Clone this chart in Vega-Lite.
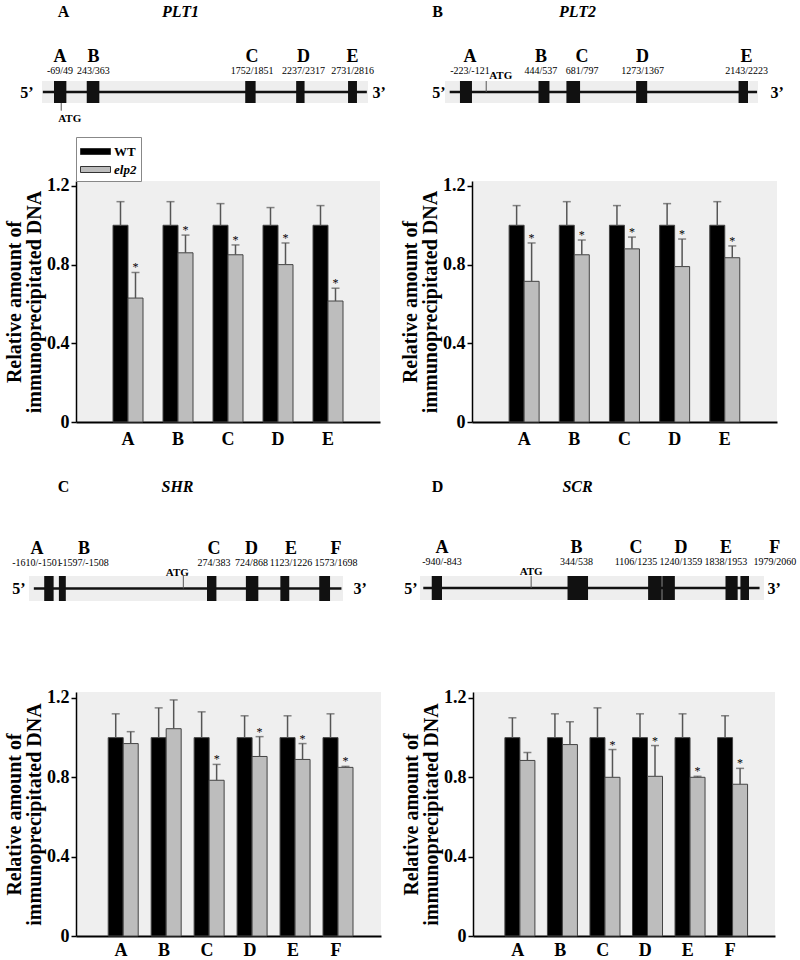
{
  "$schema": "https://vega.github.io/schema/vega-lite/v6.json",
  "padding": {"left": 4, "top": 3, "right": 2, "bottom": 0},
  "config": {"font": "Liberation Serif", "view": {"stroke": null}},
  "datasets": {
    "exA": [
      {"letter": "A", "coord": "-69/49", "start": -69, "end": 49, "lx": -12},
      {"letter": "B", "coord": "243/363", "start": 243, "end": 363, "lx": 307},
      {"letter": "C", "coord": "1752/1851", "start": 1752, "end": 1851, "lx": 1817},
      {"letter": "D", "coord": "2237/2317", "start": 2237, "end": 2317, "lx": 2307},
      {"letter": "E", "coord": "2731/2816", "start": 2731, "end": 2816, "lx": 2774}
    ],
    "exB": [
      {"letter": "A", "coord": "-223/-121", "start": -223, "end": -121, "lx": -138},
      {"letter": "B", "coord": "444/537", "start": 444, "end": 537, "lx": 465},
      {"letter": "C", "coord": "681/797", "start": 681, "end": 797, "lx": 814},
      {"letter": "D", "coord": "1273/1367", "start": 1273, "end": 1367, "lx": 1328},
      {"letter": "E", "coord": "2143/2223", "start": 2143, "end": 2223, "lx": 2211}
    ],
    "exC": [
      {"letter": "A", "coord": "-1610/-1501", "start": -1610, "end": -1501, "lx": -1694},
      {"letter": "B", "coord": "-1597/-1508", "start": -1440, "end": -1360, "lx": -1150},
      {"letter": "C", "coord": "274/383", "start": 274, "end": 383, "lx": 355},
      {"letter": "D", "coord": "724/868", "start": 724, "end": 868, "lx": 789},
      {"letter": "E", "coord": "1123/1226", "start": 1123, "end": 1226, "lx": 1246},
      {"letter": "F", "coord": "1573/1698", "start": 1573, "end": 1698, "lx": 1767}
    ],
    "exD": [
      {"letter": "A", "coord": "-940/-843", "start": -940, "end": -843, "lx": -843},
      {"letter": "B", "coord": "344/538", "start": 344, "end": 538, "lx": 429},
      {"letter": "C", "coord": "1106/1235", "start": 1106, "end": 1235, "lx": 991},
      {"letter": "D", "coord": "1240/1359", "start": 1240, "end": 1359, "lx": 1416},
      {"letter": "E", "coord": "1838/1953", "start": 1838, "end": 1953, "lx": 1842},
      {"letter": "F", "coord": "1979/2060", "start": 1979, "end": 2060, "lx": 2304}
    ],
    "atg": [{"label": "ATG", "pos": 0}],
    "plt1": [
      {"region": "A", "genotype": "WT", "value": 1, "upper": 1.12, "sig": false},
      {"region": "A", "genotype": "elp2", "value": 0.63, "upper": 0.76, "sig": true},
      {"region": "B", "genotype": "WT", "value": 1, "upper": 1.12, "sig": false},
      {"region": "B", "genotype": "elp2", "value": 0.86, "upper": 0.95, "sig": true},
      {"region": "C", "genotype": "WT", "value": 1, "upper": 1.11, "sig": false},
      {"region": "C", "genotype": "elp2", "value": 0.85, "upper": 0.9, "sig": true},
      {"region": "D", "genotype": "WT", "value": 1, "upper": 1.09, "sig": false},
      {"region": "D", "genotype": "elp2", "value": 0.8, "upper": 0.91, "sig": true},
      {"region": "E", "genotype": "WT", "value": 1, "upper": 1.1, "sig": false},
      {"region": "E", "genotype": "elp2", "value": 0.615, "upper": 0.68, "sig": true}
    ],
    "plt2": [
      {"region": "A", "genotype": "WT", "value": 1, "upper": 1.1, "sig": false},
      {"region": "A", "genotype": "elp2", "value": 0.715, "upper": 0.91, "sig": true},
      {"region": "B", "genotype": "WT", "value": 1, "upper": 1.12, "sig": false},
      {"region": "B", "genotype": "elp2", "value": 0.85, "upper": 0.925, "sig": true},
      {"region": "C", "genotype": "WT", "value": 1, "upper": 1.1, "sig": false},
      {"region": "C", "genotype": "elp2", "value": 0.88, "upper": 0.94, "sig": true},
      {"region": "D", "genotype": "WT", "value": 1, "upper": 1.11, "sig": false},
      {"region": "D", "genotype": "elp2", "value": 0.79, "upper": 0.93, "sig": true},
      {"region": "E", "genotype": "WT", "value": 1, "upper": 1.12, "sig": false},
      {"region": "E", "genotype": "elp2", "value": 0.835, "upper": 0.895, "sig": true}
    ],
    "shr": [
      {"region": "A", "genotype": "WT", "value": 1, "upper": 1.12, "sig": false},
      {"region": "A", "genotype": "elp2", "value": 0.97, "upper": 1.03, "sig": false},
      {"region": "B", "genotype": "WT", "value": 1, "upper": 1.15, "sig": false},
      {"region": "B", "genotype": "elp2", "value": 1.045, "upper": 1.19, "sig": false},
      {"region": "C", "genotype": "WT", "value": 1, "upper": 1.13, "sig": false},
      {"region": "C", "genotype": "elp2", "value": 0.785, "upper": 0.865, "sig": true},
      {"region": "D", "genotype": "WT", "value": 1, "upper": 1.11, "sig": false},
      {"region": "D", "genotype": "elp2", "value": 0.905, "upper": 1.005, "sig": true},
      {"region": "E", "genotype": "WT", "value": 1, "upper": 1.11, "sig": false},
      {"region": "E", "genotype": "elp2", "value": 0.89, "upper": 0.97, "sig": true},
      {"region": "F", "genotype": "WT", "value": 1, "upper": 1.12, "sig": false},
      {"region": "F", "genotype": "elp2", "value": 0.85, "upper": 0.855, "sig": true}
    ],
    "scr": [
      {"region": "A", "genotype": "WT", "value": 1, "upper": 1.1, "sig": false},
      {"region": "A", "genotype": "elp2", "value": 0.885, "upper": 0.925, "sig": false},
      {"region": "B", "genotype": "WT", "value": 1, "upper": 1.12, "sig": false},
      {"region": "B", "genotype": "elp2", "value": 0.965, "upper": 1.08, "sig": false},
      {"region": "C", "genotype": "WT", "value": 1, "upper": 1.15, "sig": false},
      {"region": "C", "genotype": "elp2", "value": 0.8, "upper": 0.94, "sig": true},
      {"region": "D", "genotype": "WT", "value": 1, "upper": 1.12, "sig": false},
      {"region": "D", "genotype": "elp2", "value": 0.805, "upper": 0.96, "sig": true},
      {"region": "E", "genotype": "WT", "value": 1, "upper": 1.12, "sig": false},
      {"region": "E", "genotype": "elp2", "value": 0.8, "upper": 0.805, "sig": true},
      {"region": "F", "genotype": "WT", "value": 1, "upper": 1.11, "sig": false},
      {"region": "F", "genotype": "elp2", "value": 0.765, "upper": 0.845, "sig": true}
    ]
  },
  "columns": 1,
  "align": "none",
  "spacing": 30,
  "resolve": {"scale": {"color": "independent"}, "legend": {"color": "independent"}},
  "concat": [
    {
      "columns": 1,
      "align": "none",
      "spacing": 12,
      "resolve": {"scale": {"color": "independent"}, "legend": {"color": "independent"}},
      "concat": [
        {
          "spacing": 104,
          "bounds": "flush",
          "hconcat": [
            {
              "width": 292, "height": 22,
              "resolve": {"axis": {"x": "independent", "y": "independent"}},
              "layer": [
                {"data": {"values": [{}]}, "mark": {"type": "rect", "color": "#eeeeee"},
                 "encoding": {
                   "x": {"datum": -183, "type": "quantitative", "scale": {"domain": [-183, 2921], "range": [-34, 292], "nice": false, "zero": false}, "axis": null},
                   "x2": {"datum": 2921},
                   "y": {"datum": -1, "type": "quantitative", "scale": {"domain": [-1, 1]},
                     "axis": {"orient": "left", "title": "5’", "domain": false, "ticks": false, "labels": false, "grid": false, "titleAngle": 0, "titleX": -43, "titleY": 11, "titleAlign": "right", "titleBaseline": "middle", "titleFontSize": 16, "titleFontWeight": "bold", "titleColor": "black"}},
                   "y2": {"datum": 1}}},
                {"data": {"values": [{}]}, "mark": {"type": "rule", "color": "#111111", "strokeWidth": 2.5},
                 "encoding": {
                   "x": {"datum": -175, "type": "quantitative", "scale": {"domain": [-183, 2921], "range": [-34, 292], "nice": false, "zero": false}, "axis": null},
                   "x2": {"datum": 2910},
                   "y": {"datum": 0, "type": "quantitative", "scale": {"domain": [-1, 1]}, "axis": null}}},
                {"data": {"name": "exA"}, "mark": {"type": "rect", "color": "#111111"},
                 "encoding": {
                   "x": {"field": "start", "type": "quantitative", "scale": {"domain": [-183, 2921], "range": [-34, 292], "nice": false, "zero": false},
                     "axis": {"orient": "top", "title": "PLT1", "domain": false, "ticks": false, "labels": false, "grid": false, "titleX": 104, "titleY": -70, "titleAlign": "center", "titleBaseline": "middle", "titleFontSize": 16, "titleFontWeight": "bold", "titleFontStyle": "italic", "titleColor": "black"}},
                   "x2": {"field": "end"},
                   "y": {"datum": -1, "type": "quantitative", "scale": {"domain": [-1, 1]},
                     "axis": {"orient": "right", "title": "3’", "domain": false, "ticks": false, "labels": false, "grid": false, "titleAngle": 0, "titleX": 4, "titleY": 11, "titleAlign": "left", "titleBaseline": "middle", "titleFontSize": 16, "titleFontWeight": "bold", "titleColor": "black"}},
                   "y2": {"datum": 1}}},
                {"data": {"name": "exA"}, "mark": {"type": "text", "dy": -35, "fontSize": 18, "fontWeight": "bold", "color": "black"},
                 "encoding": {
                   "x": {"field": "lx", "type": "quantitative", "scale": {"domain": [-183, 2921], "range": [-34, 292], "nice": false, "zero": false},
                     "axis": {"orient": "bottom", "title": "A", "domain": false, "ticks": false, "labels": false, "grid": false, "titleX": -13, "titleY": -92, "titleAlign": "center", "titleBaseline": "middle", "titleFontSize": 16, "titleFontWeight": "bold", "titleColor": "black"}},
                   "y": {"datum": 0, "type": "quantitative", "scale": {"domain": [-1, 1]}, "axis": null},
                   "text": {"field": "letter"}}},
                {"data": {"name": "exA"}, "mark": {"type": "text", "dy": -21, "fontSize": 10, "color": "black"},
                 "encoding": {
                   "x": {"field": "lx", "type": "quantitative", "scale": {"domain": [-183, 2921], "range": [-34, 292], "nice": false, "zero": false}, "axis": null},
                   "y": {"datum": 0, "type": "quantitative", "scale": {"domain": [-1, 1]}, "axis": null},
                   "text": {"field": "coord"}}},
                {"data": {"name": "atg"}, "mark": {"type": "rule", "color": "#555555", "strokeWidth": 1},
                 "encoding": {
                   "x": {"field": "pos", "type": "quantitative", "scale": {"domain": [-183, 2921], "range": [-34, 292], "nice": false, "zero": false}, "axis": null},
                   "y": {"datum": -1, "type": "quantitative", "scale": {"domain": [-1, 1]}, "axis": null},
                   "y2": {"datum": -1.7}}},
                {"data": {"name": "atg"}, "mark": {"type": "text", "align": "left", "dx": -3, "dy": 16, "fontSize": 11, "fontWeight": "bold", "color": "black"},
                 "encoding": {
                   "x": {"field": "pos", "type": "quantitative", "scale": {"domain": [-183, 2921], "range": [-34, 292], "nice": false, "zero": false}, "axis": null},
                   "y": {"datum": -1, "type": "quantitative", "scale": {"domain": [-1, 1]}, "axis": null},
                   "text": {"field": "label"}}}
              ]
            },
            {
              "width": 286, "height": 22,
              "resolve": {"axis": {"x": "independent", "y": "independent"}},
              "layer": [
                {"data": {"values": [{}]}, "mark": {"type": "rect", "color": "#eeeeee"},
                 "encoding": {
                   "x": {"datum": -350, "type": "quantitative", "scale": {"domain": [-350, 2308], "range": [-27, 286], "nice": false, "zero": false}, "axis": null},
                   "x2": {"datum": 2308},
                   "y": {"datum": -1, "type": "quantitative", "scale": {"domain": [-1, 1]},
                     "axis": {"orient": "left", "title": "5’", "domain": false, "ticks": false, "labels": false, "grid": false, "titleAngle": 0, "titleX": -27, "titleY": 11, "titleAlign": "right", "titleBaseline": "middle", "titleFontSize": 16, "titleFontWeight": "bold", "titleColor": "black"}},
                   "y2": {"datum": 1}}},
                {"data": {"values": [{}]}, "mark": {"type": "rule", "color": "#111111", "strokeWidth": 2.5},
                 "encoding": {
                   "x": {"datum": -310, "type": "quantitative", "scale": {"domain": [-350, 2308], "range": [-27, 286], "nice": false, "zero": false}, "axis": null},
                   "x2": {"datum": 2300},
                   "y": {"datum": 0, "type": "quantitative", "scale": {"domain": [-1, 1]}, "axis": null}}},
                {"data": {"name": "exB"}, "mark": {"type": "rect", "color": "#111111"},
                 "encoding": {
                   "x": {"field": "start", "type": "quantitative", "scale": {"domain": [-350, 2308], "range": [-27, 286], "nice": false, "zero": false},
                     "axis": {"orient": "top", "title": "PLT2", "domain": false, "ticks": false, "labels": false, "grid": false, "titleX": 105, "titleY": -70, "titleAlign": "center", "titleBaseline": "middle", "titleFontSize": 16, "titleFontWeight": "bold", "titleFontStyle": "italic", "titleColor": "black"}},
                   "x2": {"field": "end"},
                   "y": {"datum": -1, "type": "quantitative", "scale": {"domain": [-1, 1]},
                     "axis": {"orient": "right", "title": "3’", "domain": false, "ticks": false, "labels": false, "grid": false, "titleAngle": 0, "titleX": 12, "titleY": 11, "titleAlign": "left", "titleBaseline": "middle", "titleFontSize": 16, "titleFontWeight": "bold", "titleColor": "black"}},
                   "y2": {"datum": 1}}},
                {"data": {"name": "exB"}, "mark": {"type": "text", "dy": -35, "fontSize": 18, "fontWeight": "bold", "color": "black"},
                 "encoding": {
                   "x": {"field": "lx", "type": "quantitative", "scale": {"domain": [-350, 2308], "range": [-27, 286], "nice": false, "zero": false},
                     "axis": {"orient": "bottom", "title": "B", "domain": false, "ticks": false, "labels": false, "grid": false, "titleX": -35, "titleY": -92, "titleAlign": "center", "titleBaseline": "middle", "titleFontSize": 16, "titleFontWeight": "bold", "titleColor": "black"}},
                   "y": {"datum": 0, "type": "quantitative", "scale": {"domain": [-1, 1]}, "axis": null},
                   "text": {"field": "letter"}}},
                {"data": {"name": "exB"}, "mark": {"type": "text", "dy": -21, "fontSize": 10, "color": "black"},
                 "encoding": {
                   "x": {"field": "lx", "type": "quantitative", "scale": {"domain": [-350, 2308], "range": [-27, 286], "nice": false, "zero": false}, "axis": null},
                   "y": {"datum": 0, "type": "quantitative", "scale": {"domain": [-1, 1]}, "axis": null},
                   "text": {"field": "coord"}}},
                {"data": {"name": "atg"}, "mark": {"type": "rule", "color": "#555555", "strokeWidth": 1},
                 "encoding": {
                   "x": {"field": "pos", "type": "quantitative", "scale": {"domain": [-350, 2308], "range": [-27, 286], "nice": false, "zero": false}, "axis": null},
                   "y": {"datum": 0, "type": "quantitative", "scale": {"domain": [-1, 1]}, "axis": null},
                   "y2": {"datum": 1}}},
                {"data": {"name": "atg"}, "mark": {"type": "text", "align": "left", "dx": 3, "dy": -16, "fontSize": 11, "fontWeight": "bold", "color": "black"},
                 "encoding": {
                   "x": {"field": "pos", "type": "quantitative", "scale": {"domain": [-350, 2308], "range": [-27, 286], "nice": false, "zero": false}, "axis": null},
                   "y": {"datum": 0, "type": "quantitative", "scale": {"domain": [-1, 1]}, "axis": null},
                   "text": {"field": "label"}}}
              ]
            }
          ]
        },
        {
          "spacing": 92,
          "bounds": "flush",
          "resolve": {"scale": {"color": "independent"}, "legend": {"color": "independent"}},
          "hconcat": [
            {
              "width": 304, "height": 241,
              "view": {"fill": "#efefef", "stroke": null},
              "data": {"name": "plt1"},
              "encoding": {
                "x": {"field": "region", "type": "nominal", "scale": {"paddingInner": 0.4, "paddingOuter": 0.74},
                  "axis": {"title": null, "labelAngle": 0, "ticks": false, "grid": false, "domainColor": "black", "domainWidth": 2, "labelFontSize": 18, "labelFontWeight": "bold", "labelColor": "black", "labelPadding": 8}},
                "xOffset": {"field": "genotype", "type": "nominal", "sort": ["WT", "elp2"]}
              },
              "layer": [
                {"mark": {"type": "bar", "stroke": "#444444", "strokeWidth": 1},
                 "encoding": {
                   "y": {"field": "value", "type": "quantitative", "scale": {"domain": [0, 1.225], "nice": false},
                     "axis": {"title": ["Relative amount of", "immunoprecipitated DNA"], "values": [0, 0.4, 0.8, 1.2], "format": "~g", "grid": false, "domainColor": "black", "domainWidth": 1.5, "tickColor": "black", "tickSize": 5, "tickWidth": 1.5, "labelFontSize": 18, "labelFontWeight": "bold", "labelColor": "black", "labelPadding": 2, "titleFontSize": 20, "titleFontWeight": "bold", "titleColor": "black", "titleLineHeight": 20, "titlePadding": 2}},
                   "color": {"field": "genotype", "type": "nominal", "scale": {"domain": ["WT", "elp2"], "range": ["#000000", "#bdbdbd"]},
                     "legend": {"orient": "top", "offset": 0, "title": null, "direction": "vertical", "fillColor": "white", "strokeColor": "#888888", "padding": 4, "symbolType": "M-1,-0.3H2V0.3H-1Z", "symbolSize": 400, "symbolStrokeColor": "#333333", "symbolStrokeWidth": 1, "labelFont": "Liberation Serif", "labelFontSize": 13, "labelFontWeight": "bold", "labelColor": "black", "rowPadding": -8, "labelOffset": 13,
                       "encode": {"labels": {"update": {"fontStyle": {"signal": "datum.value === 'elp2' ? 'italic' : 'normal'"}}}}}}}},
                {"mark": {"type": "rule", "color": "#555555", "strokeWidth": 1.5},
                 "encoding": {"y": {"field": "value", "type": "quantitative"}, "y2": {"field": "upper"}}},
                {"mark": {"type": "tick", "color": "#555555", "thickness": 1.5, "size": 8},
                 "encoding": {"y": {"field": "upper", "type": "quantitative"}}},
                {"transform": [{"filter": "datum.sig"}],
                 "mark": {"type": "text", "text": "*", "fontSize": 12, "dy": -1, "baseline": "alphabetic", "color": "black"},
                 "encoding": {"y": {"field": "upper", "type": "quantitative"}}}
              ]
            },
            {
              "width": 305, "height": 241,
              "view": {"fill": "#efefef", "stroke": null},
              "data": {"name": "plt2"},
              "encoding": {
                "x": {"field": "region", "type": "nominal", "scale": {"paddingInner": 0.4, "paddingOuter": 0.74},
                  "axis": {"title": null, "labelAngle": 0, "ticks": false, "grid": false, "domainColor": "black", "domainWidth": 2, "labelFontSize": 18, "labelFontWeight": "bold", "labelColor": "black", "labelPadding": 8}},
                "xOffset": {"field": "genotype", "type": "nominal", "sort": ["WT", "elp2"]}
              },
              "layer": [
                {"mark": {"type": "bar", "stroke": "#444444", "strokeWidth": 1},
                 "encoding": {
                   "y": {"field": "value", "type": "quantitative", "scale": {"domain": [0, 1.225], "nice": false},
                     "axis": {"title": ["Relative amount of", "immunoprecipitated DNA"], "values": [0, 0.4, 0.8, 1.2], "format": "~g", "grid": false, "domainColor": "black", "domainWidth": 1.5, "tickColor": "black", "tickSize": 5, "tickWidth": 1.5, "labelFontSize": 18, "labelFontWeight": "bold", "labelColor": "black", "labelPadding": 2, "titleFontSize": 20, "titleFontWeight": "bold", "titleColor": "black", "titleLineHeight": 20, "titlePadding": 2}},
                   "color": {"field": "genotype", "type": "nominal", "scale": {"domain": ["WT", "elp2"], "range": ["#000000", "#bdbdbd"]}, "legend": null}}},
                {"mark": {"type": "rule", "color": "#555555", "strokeWidth": 1.5},
                 "encoding": {"y": {"field": "value", "type": "quantitative"}, "y2": {"field": "upper"}}},
                {"mark": {"type": "tick", "color": "#555555", "thickness": 1.5, "size": 8},
                 "encoding": {"y": {"field": "upper", "type": "quantitative"}}},
                {"transform": [{"filter": "datum.sig"}],
                 "mark": {"type": "text", "text": "*", "fontSize": 12, "dy": -1, "baseline": "alphabetic", "color": "black"},
                 "encoding": {"y": {"field": "upper", "type": "quantitative"}}}
              ]
            }
          ]
        }
      ]
    },
    {
      "columns": 1,
      "align": "none",
      "spacing": 87,
      "resolve": {"scale": {"color": "independent"}, "legend": {"color": "independent"}},
      "concat": [
        {
          "spacing": 130,
          "bounds": "flush",
          "hconcat": [
            {
              "width": 267, "height": 25,
              "resolve": {"axis": {"x": "independent", "y": "independent"}},
              "layer": [
                {"data": {"values": [{}]}, "mark": {"type": "rect", "color": "#eeeeee"},
                 "encoding": {
                   "x": {"datum": -1786, "type": "quantitative", "scale": {"domain": [-1786, 1848], "range": [-47, 267], "nice": false, "zero": false}, "axis": null},
                   "x2": {"datum": 1848},
                   "y": {"datum": -1, "type": "quantitative", "scale": {"domain": [-1, 1]},
                     "axis": {"orient": "left", "title": "5’", "domain": false, "ticks": false, "labels": false, "grid": false, "titleAngle": 0, "titleX": -51, "titleY": 12.5, "titleAlign": "right", "titleBaseline": "middle", "titleFontSize": 16, "titleFontWeight": "bold", "titleColor": "black"}},
                   "y2": {"datum": 1}}},
                {"data": {"values": [{}]}, "mark": {"type": "rule", "color": "#111111", "strokeWidth": 2.5},
                 "encoding": {
                   "x": {"datum": -1730, "type": "quantitative", "scale": {"domain": [-1786, 1848], "range": [-47, 267], "nice": false, "zero": false}, "axis": null},
                   "x2": {"datum": 1830},
                   "y": {"datum": 0, "type": "quantitative", "scale": {"domain": [-1, 1]}, "axis": null}}},
                {"data": {"name": "exC"}, "mark": {"type": "rect", "color": "#111111"},
                 "encoding": {
                   "x": {"field": "start", "type": "quantitative", "scale": {"domain": [-1786, 1848], "range": [-47, 267], "nice": false, "zero": false},
                     "axis": {"orient": "top", "title": "SHR", "domain": false, "ticks": false, "labels": false, "grid": false, "titleX": 101, "titleY": -90, "titleAlign": "center", "titleBaseline": "middle", "titleFontSize": 16, "titleFontWeight": "bold", "titleFontStyle": "italic", "titleColor": "black"}},
                   "x2": {"field": "end"},
                   "y": {"datum": -1, "type": "quantitative", "scale": {"domain": [-1, 1]},
                     "axis": {"orient": "right", "title": "3’", "domain": false, "ticks": false, "labels": false, "grid": false, "titleAngle": 0, "titleX": 10, "titleY": 12.5, "titleAlign": "left", "titleBaseline": "middle", "titleFontSize": 16, "titleFontWeight": "bold", "titleColor": "black"}},
                   "y2": {"datum": 1}}},
                {"data": {"name": "exC"}, "mark": {"type": "text", "dy": -40, "fontSize": 18, "fontWeight": "bold", "color": "black"},
                 "encoding": {
                   "x": {"field": "lx", "type": "quantitative", "scale": {"domain": [-1786, 1848], "range": [-47, 267], "nice": false, "zero": false},
                     "axis": {"orient": "bottom", "title": "C", "domain": false, "ticks": false, "labels": false, "grid": false, "titleX": -13, "titleY": -115, "titleAlign": "center", "titleBaseline": "middle", "titleFontSize": 16, "titleFontWeight": "bold", "titleColor": "black"}},
                   "y": {"datum": 0, "type": "quantitative", "scale": {"domain": [-1, 1]}, "axis": null},
                   "text": {"field": "letter"}}},
                {"data": {"name": "exC"}, "mark": {"type": "text", "dy": -26, "fontSize": 10, "color": "black"},
                 "encoding": {
                   "x": {"field": "lx", "type": "quantitative", "scale": {"domain": [-1786, 1848], "range": [-47, 267], "nice": false, "zero": false}, "axis": null},
                   "y": {"datum": 0, "type": "quantitative", "scale": {"domain": [-1, 1]}, "axis": null},
                   "text": {"field": "coord"}}},
                {"data": {"name": "atg"}, "mark": {"type": "rule", "color": "#555555", "strokeWidth": 1},
                 "encoding": {
                   "x": {"field": "pos", "type": "quantitative", "scale": {"domain": [-1786, 1848], "range": [-47, 267], "nice": false, "zero": false}, "axis": null},
                   "y": {"datum": 0, "type": "quantitative", "scale": {"domain": [-1, 1]}, "axis": null},
                   "y2": {"datum": 1}}},
                {"data": {"name": "atg"}, "mark": {"type": "text", "align": "center", "dx": -6, "dy": -16, "fontSize": 11, "fontWeight": "bold", "color": "black"},
                 "encoding": {
                   "x": {"field": "pos", "type": "quantitative", "scale": {"domain": [-1786, 1848], "range": [-47, 267], "nice": false, "zero": false}, "axis": null},
                   "y": {"datum": 0, "type": "quantitative", "scale": {"domain": [-1, 1]}, "axis": null},
                   "text": {"field": "label"}}}
              ]
            },
            {
              "width": 291, "height": 24,
              "resolve": {"axis": {"x": "independent", "y": "independent"}},
              "layer": [
                {"data": {"values": [{}]}, "mark": {"type": "rect", "color": "#eeeeee"},
                 "encoding": {
                   "x": {"datum": -1051, "type": "quantitative", "scale": {"domain": [-1051, 2202], "range": [-53, 291], "nice": false, "zero": false}, "axis": null},
                   "x2": {"datum": 2202},
                   "y": {"datum": -1, "type": "quantitative", "scale": {"domain": [-1, 1]},
                     "axis": {"orient": "left", "title": "5’", "domain": false, "ticks": false, "labels": false, "grid": false, "titleAngle": 0, "titleX": -56, "titleY": 12, "titleAlign": "right", "titleBaseline": "middle", "titleFontSize": 16, "titleFontWeight": "bold", "titleColor": "black"}},
                   "y2": {"datum": 1}}},
                {"data": {"values": [{}]}, "mark": {"type": "rule", "color": "#111111", "strokeWidth": 2.5},
                 "encoding": {
                   "x": {"datum": -1020, "type": "quantitative", "scale": {"domain": [-1051, 2202], "range": [-53, 291], "nice": false, "zero": false}, "axis": null},
                   "x2": {"datum": 2160},
                   "y": {"datum": 0, "type": "quantitative", "scale": {"domain": [-1, 1]}, "axis": null}}},
                {"data": {"name": "exD"}, "mark": {"type": "rect", "color": "#111111"},
                 "encoding": {
                   "x": {"field": "start", "type": "quantitative", "scale": {"domain": [-1051, 2202], "range": [-53, 291], "nice": false, "zero": false},
                     "axis": {"orient": "top", "title": "SCR", "domain": false, "ticks": false, "labels": false, "grid": false, "titleX": 104, "titleY": -90, "titleAlign": "center", "titleBaseline": "middle", "titleFontSize": 16, "titleFontWeight": "bold", "titleFontStyle": "italic", "titleColor": "black"}},
                   "x2": {"field": "end"},
                   "y": {"datum": -1, "type": "quantitative", "scale": {"domain": [-1, 1]},
                     "axis": {"orient": "right", "title": "3’", "domain": false, "ticks": false, "labels": false, "grid": false, "titleAngle": 0, "titleX": 3, "titleY": 12, "titleAlign": "left", "titleBaseline": "middle", "titleFontSize": 16, "titleFontWeight": "bold", "titleColor": "black"}},
                   "y2": {"datum": 1}}},
                {"data": {"name": "exD"}, "mark": {"type": "text", "dy": -40, "fontSize": 18, "fontWeight": "bold", "color": "black"},
                 "encoding": {
                   "x": {"field": "lx", "type": "quantitative", "scale": {"domain": [-1051, 2202], "range": [-53, 291], "nice": false, "zero": false},
                     "axis": {"orient": "bottom", "title": "D", "domain": false, "ticks": false, "labels": false, "grid": false, "titleX": -36, "titleY": -114, "titleAlign": "center", "titleBaseline": "middle", "titleFontSize": 16, "titleFontWeight": "bold", "titleColor": "black"}},
                   "y": {"datum": 0, "type": "quantitative", "scale": {"domain": [-1, 1]}, "axis": null},
                   "text": {"field": "letter"}}},
                {"data": {"name": "exD"}, "mark": {"type": "text", "dy": -26, "fontSize": 10, "color": "black"},
                 "encoding": {
                   "x": {"field": "lx", "type": "quantitative", "scale": {"domain": [-1051, 2202], "range": [-53, 291], "nice": false, "zero": false}, "axis": null},
                   "y": {"datum": 0, "type": "quantitative", "scale": {"domain": [-1, 1]}, "axis": null},
                   "text": {"field": "coord"}}},
                {"data": {"name": "atg"}, "mark": {"type": "rule", "color": "#555555", "strokeWidth": 1},
                 "encoding": {
                   "x": {"field": "pos", "type": "quantitative", "scale": {"domain": [-1051, 2202], "range": [-53, 291], "nice": false, "zero": false}, "axis": null},
                   "y": {"datum": 0, "type": "quantitative", "scale": {"domain": [-1, 1]}, "axis": null},
                   "y2": {"datum": 1}}},
                {"data": {"name": "atg"}, "mark": {"type": "text", "align": "center", "dy": -16, "fontSize": 11, "fontWeight": "bold", "color": "black"},
                 "encoding": {
                   "x": {"field": "pos", "type": "quantitative", "scale": {"domain": [-1051, 2202], "range": [-53, 291], "nice": false, "zero": false}, "axis": null},
                   "y": {"datum": 0, "type": "quantitative", "scale": {"domain": [-1, 1]}, "axis": null},
                   "text": {"field": "label"}}}
              ]
            }
          ]
        },
        {
          "spacing": 92,
          "bounds": "flush",
          "resolve": {"scale": {"color": "independent"}, "legend": {"color": "independent"}},
          "hconcat": [
            {
              "width": 305, "height": 244,
              "view": {"fill": "#efefef", "stroke": null},
              "data": {"name": "shr"},
              "encoding": {
                "x": {"field": "region", "type": "nominal", "scale": {"paddingInner": 0.4, "paddingOuter": 0.75},
                  "axis": {"title": null, "labelAngle": 0, "ticks": false, "grid": false, "domainColor": "black", "domainWidth": 2, "labelFontSize": 18, "labelFontWeight": "bold", "labelColor": "black", "labelPadding": 5}},
                "xOffset": {"field": "genotype", "type": "nominal", "sort": ["WT", "elp2"]}
              },
              "layer": [
                {"mark": {"type": "bar", "stroke": "#444444", "strokeWidth": 1},
                 "encoding": {
                   "y": {"field": "value", "type": "quantitative", "scale": {"domain": [0, 1.23], "nice": false},
                     "axis": {"title": ["Relative amount of", "immunoprecipitated DNA"], "values": [0, 0.4, 0.8, 1.2], "format": "~g", "grid": false, "domainColor": "black", "domainWidth": 1.5, "tickColor": "black", "tickSize": 5, "tickWidth": 1.5, "labelFontSize": 18, "labelFontWeight": "bold", "labelColor": "black", "labelPadding": 2, "titleFontSize": 20, "titleFontWeight": "bold", "titleColor": "black", "titleLineHeight": 20, "titlePadding": 2}},
                   "color": {"field": "genotype", "type": "nominal", "scale": {"domain": ["WT", "elp2"], "range": ["#000000", "#bdbdbd"]}, "legend": null}}},
                {"mark": {"type": "rule", "color": "#555555", "strokeWidth": 1.5},
                 "encoding": {"y": {"field": "value", "type": "quantitative"}, "y2": {"field": "upper"}}},
                {"mark": {"type": "tick", "color": "#555555", "thickness": 1.5, "size": 8},
                 "encoding": {"y": {"field": "upper", "type": "quantitative"}}},
                {"transform": [{"filter": "datum.sig"}],
                 "mark": {"type": "text", "text": "*", "fontSize": 12, "dy": -1, "baseline": "alphabetic", "color": "black"},
                 "encoding": {"y": {"field": "upper", "type": "quantitative"}}}
              ]
            },
            {
              "width": 302, "height": 244,
              "view": {"fill": "#efefef", "stroke": null},
              "data": {"name": "scr"},
              "encoding": {
                "x": {"field": "region", "type": "nominal", "scale": {"paddingInner": 0.4, "paddingOuter": 0.75},
                  "axis": {"title": null, "labelAngle": 0, "ticks": false, "grid": false, "domainColor": "black", "domainWidth": 2, "labelFontSize": 18, "labelFontWeight": "bold", "labelColor": "black", "labelPadding": 5}},
                "xOffset": {"field": "genotype", "type": "nominal", "sort": ["WT", "elp2"]}
              },
              "layer": [
                {"mark": {"type": "bar", "stroke": "#444444", "strokeWidth": 1},
                 "encoding": {
                   "y": {"field": "value", "type": "quantitative", "scale": {"domain": [0, 1.23], "nice": false},
                     "axis": {"title": ["Relative amount of", "immunoprecipitated DNA"], "values": [0, 0.4, 0.8, 1.2], "format": "~g", "grid": false, "domainColor": "black", "domainWidth": 1.5, "tickColor": "black", "tickSize": 5, "tickWidth": 1.5, "labelFontSize": 18, "labelFontWeight": "bold", "labelColor": "black", "labelPadding": 2, "titleFontSize": 20, "titleFontWeight": "bold", "titleColor": "black", "titleLineHeight": 20, "titlePadding": 2}},
                   "color": {"field": "genotype", "type": "nominal", "scale": {"domain": ["WT", "elp2"], "range": ["#000000", "#bdbdbd"]}, "legend": null}}},
                {"mark": {"type": "rule", "color": "#555555", "strokeWidth": 1.5},
                 "encoding": {"y": {"field": "value", "type": "quantitative"}, "y2": {"field": "upper"}}},
                {"mark": {"type": "tick", "color": "#555555", "thickness": 1.5, "size": 8},
                 "encoding": {"y": {"field": "upper", "type": "quantitative"}}},
                {"transform": [{"filter": "datum.sig"}],
                 "mark": {"type": "text", "text": "*", "fontSize": 12, "dy": -1, "baseline": "alphabetic", "color": "black"},
                 "encoding": {"y": {"field": "upper", "type": "quantitative"}}}
              ]
            }
          ]
        }
      ]
    }
  ]
}
